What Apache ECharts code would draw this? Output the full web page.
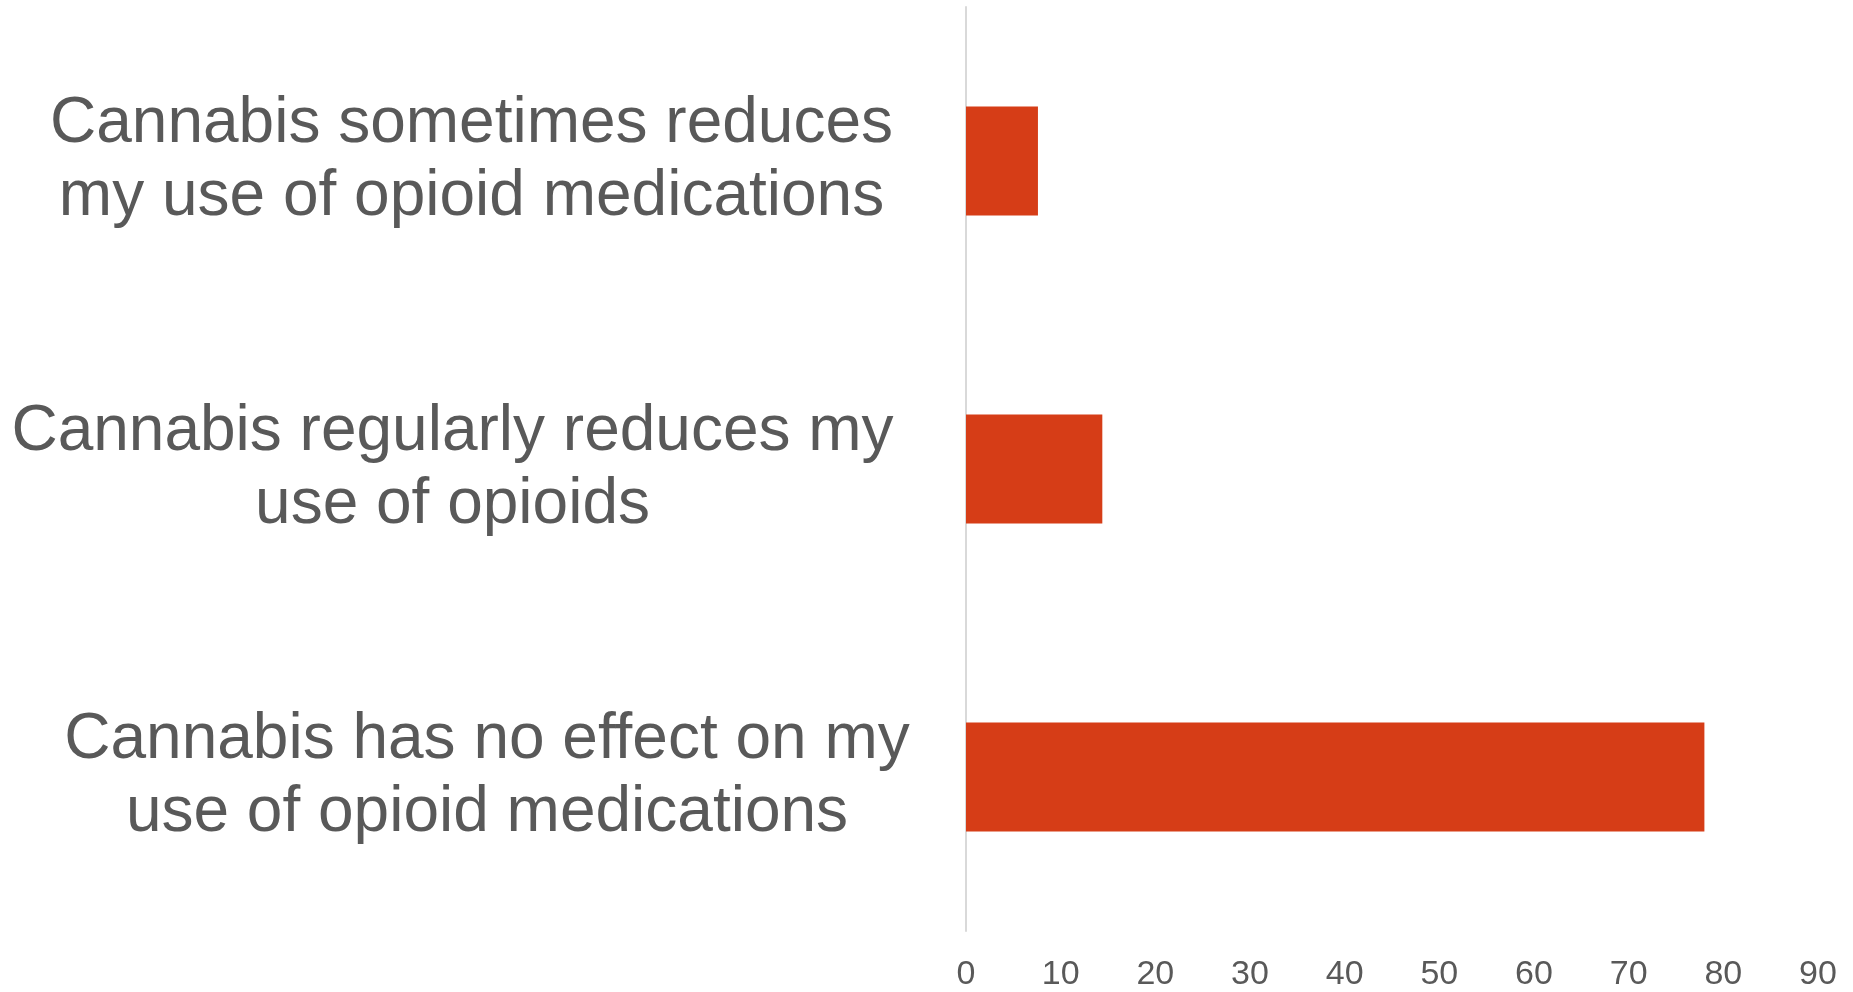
<!DOCTYPE html>
<html>
<head>
<meta charset="utf-8">
<script src="https://cdn.jsdelivr.net/npm/echarts@6/dist/echarts.min.js"></script>
<style>
html,body{margin:0;padding:0;background:#fff;}
#chart{width:1853px;height:992px;}
</style>
</head>
<body>
<div id="chart"></div>
<script>
const categories = [
  'Cannabis sometimes reduces\nmy use of opioid medications',
  'Cannabis regularly reduces my\nuse of opioids',
  'Cannabis has no effect on my\nuse of opioid medications'
];
const values = [7.6, 14.4, 78.0];
const xTicks = [0, 10, 20, 30, 40, 50, 60, 70, 80, 90];

const labelWidths = [937, 975, 906];
const rich = {};
labelWidths.forEach(function (w, i) {
  rich['c' + i] = {
    width: w,
    align: 'center',
    fontSize: 64,
    lineHeight: 73,
    fontFamily: '"Liberation Sans", Arial, sans-serif',
    color: '#595959'
  };
});

const chart = echarts.init(document.getElementById('chart'));
chart.setOption({
  animation: false,
  backgroundColor: '#ffffff',
  grid: { left: 966, right: 35, top: 7, bottom: 61, containLabel: false, outerBoundsMode: 'none' },
  xAxis: {
    type: 'value',
    min: xTicks[0],
    max: xTicks[xTicks.length - 1],
    interval: 10,
    axisLine: { show: false },
    axisTick: { show: false },
    splitLine: { show: false },
    axisLabel: {
      fontSize: 34,
      color: '#595959',
      fontFamily: '"Liberation Sans", Arial, sans-serif',
      margin: 27
    }
  },
  yAxis: {
    type: 'category',
    inverse: true,
    data: categories,
    axisLine: { show: true, lineStyle: { color: '#d9d9d9', width: 2 } },
    axisTick: { show: false },
    splitLine: { show: false },
    axisLabel: {
      margin: 26,
      align: 'right',
      formatter: function (value, index) {
        return value.split('\n').map(function (line) {
          return '{c' + index + '|' + line + '}';
        }).join('\n');
      },
      rich: rich
    }
  },
  series: [{
    type: 'bar',
    data: values,
    barWidth: 109,
    itemStyle: { color: '#D63D17' },
    z: 1
  }]
});
</script>
</body>
</html>
